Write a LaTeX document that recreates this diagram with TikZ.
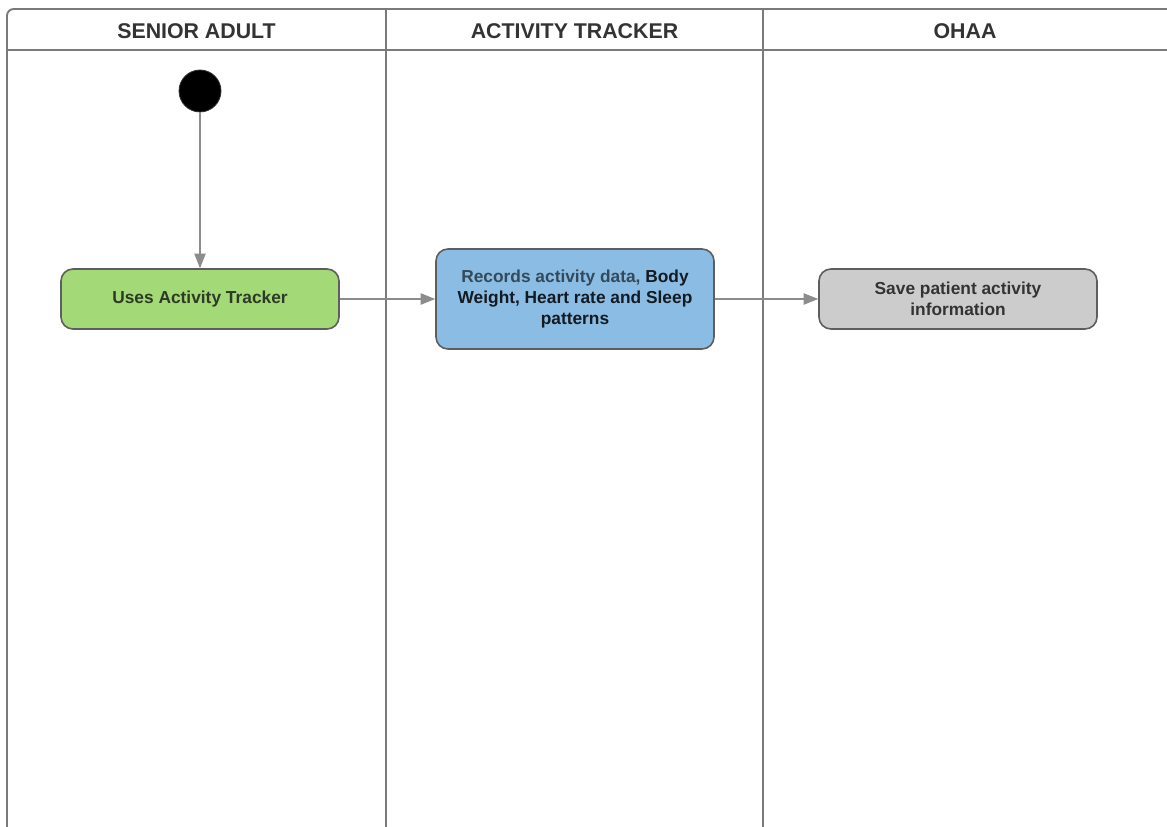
\documentclass[tikz,border=0pt]{standalone}
\usepackage{fontspec}
\setmainfont{Liberation Sans}
\usetikzlibrary{arrows.meta}
\definecolor{lanegray}{HTML}{7A7A7A}
\definecolor{edgegray}{HTML}{5E5E5E}
\definecolor{linkgray}{HTML}{8C8C8C}
\definecolor{headtext}{HTML}{333333}
\definecolor{greenfill}{HTML}{A3D977}
\definecolor{bluefill}{HTML}{8BBDE4}
\definecolor{grayfill}{HTML}{CCCCCC}
\definecolor{greentext}{HTML}{2E3A26}
\definecolor{slatetext}{HTML}{34495A}
\definecolor{darktext}{HTML}{141A22}
\begin{document}
\begin{tikzpicture}[x=0.75pt,y=-0.75pt,
  lane/.style={draw=lanegray,line width=1.4pt},
  header/.style={font=\fontsize{16}{19}\selectfont\bfseries,text=headtext,anchor=center},
  actbox/.style={draw=edgegray,line width=1.2pt,rounded corners=9pt,align=center,
     font=\fontsize{13}{16}\selectfont\bfseries,inner sep=0pt},
  link/.style={draw=linkgray,line width=1.2pt,-{Triangle[length=11pt,width=8.5pt]}}]
\useasboundingbox (0,0) rectangle (1167,827);
\fill[white] (0,0) rectangle (1167,827);
% swimlane frame
\draw[lane,rounded corners=5pt] (7,827) -- (7,9) -- (1167,9);
\draw[lane] (7,50) -- (1167,50);
\draw[lane] (386,9) -- (386,827);
\draw[lane] (763,9) -- (763,827);
% headers
\node[header] (h1) at (196.5,31) {SENIOR ADULT};
\node[header] (h2) at (574.5,31) {ACTIVITY TRACKER};
\node[header] (h3) at (965,31) {OHAA};
% start node
\node[circle,fill=black,draw=black!80,line width=0.6pt,minimum size=31.5pt,inner sep=0pt] (start) at (200,91) {};
% activities
\node[actbox,fill=greenfill,text=greentext,minimum width=208.5pt,minimum height=45pt] (use) at (200,299) {Uses Activity Tracker};
\node[actbox,fill=bluefill,minimum width=208.5pt,minimum height=75pt] (rec) at (575,299)
  {\textcolor{slatetext}{Records activity data,} \textcolor{darktext}{Body}\\
   \textcolor{darktext}{Weight, Heart rate and Sleep}\\
   \textcolor{darktext}{patterns}};
\node[actbox,fill=grayfill,text=headtext,minimum width=208.5pt,minimum height=45pt] (save) at (958,299)
  {Save patient activity\\information};
% connectors
\draw[link] (start) -- (use);
\draw[link] (use) -- (rec);
\draw[link] (rec) -- (save);
\end{tikzpicture}
\end{document}
